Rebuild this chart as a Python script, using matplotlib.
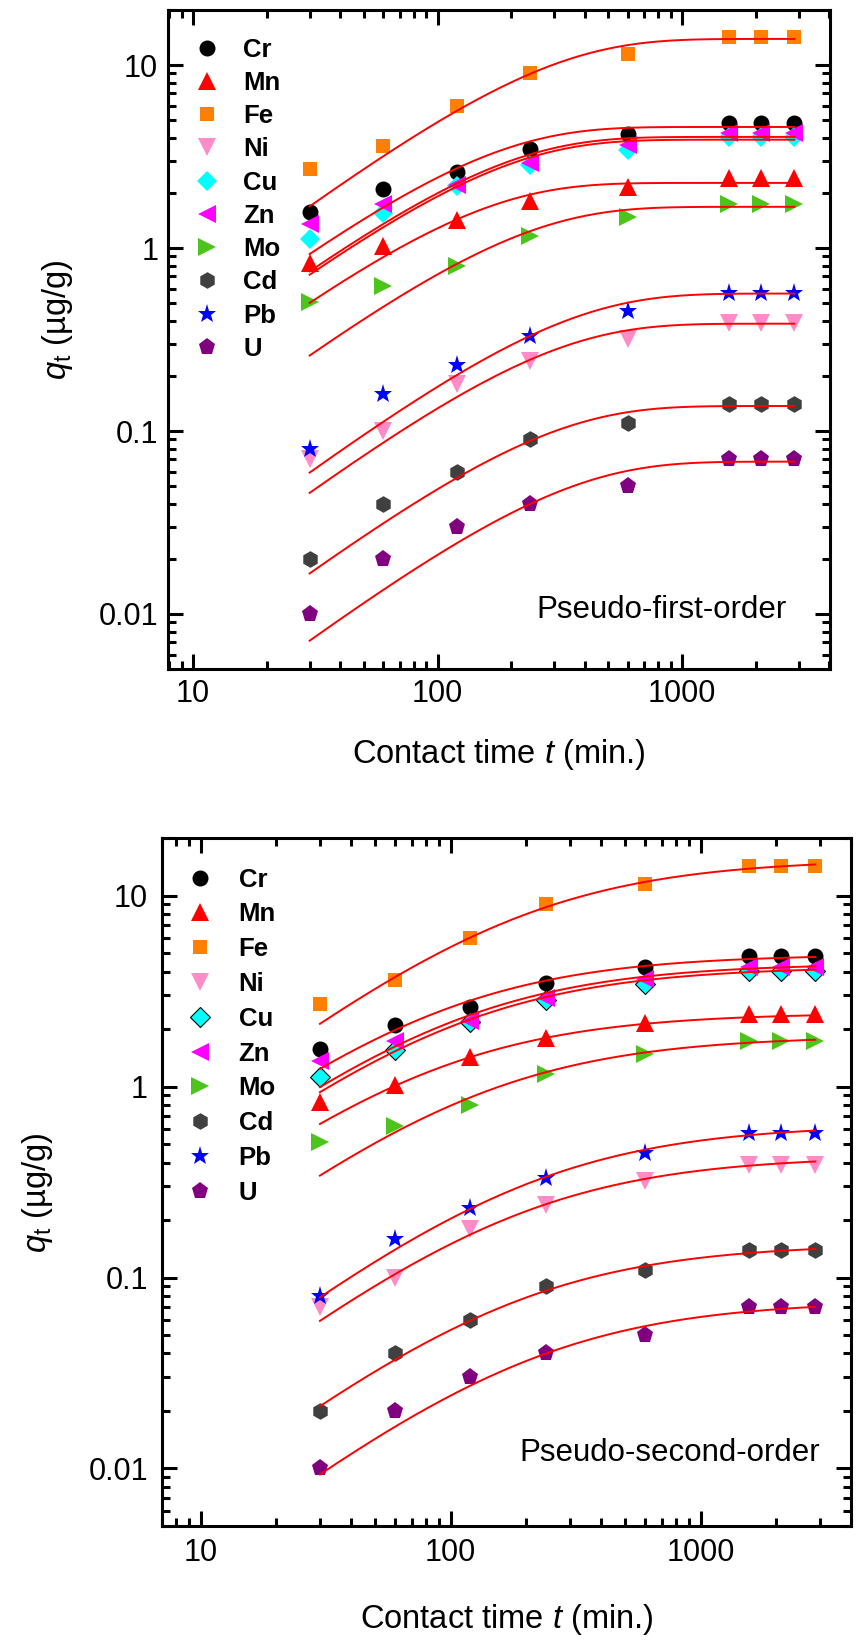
import numpy as np
import matplotlib
matplotlib.use('Agg')
import matplotlib.pyplot as plt
from matplotlib import ticker

plt.rcParams['font.family'] = ['Liberation Sans', 'DejaVu Sans']
plt.rcParams['mathtext.fontset'] = 'custom'
plt.rcParams['mathtext.rm'] = 'Liberation Sans'
plt.rcParams['mathtext.it'] = 'Liberation Sans:italic'

# contact time (min)
t = [30, 60, 120, 240, 600, 1560, 2100, 2880]

elements = ['Cr', 'Mn', 'Fe', 'Ni', 'Cu', 'Zn', 'Mo', 'Cd', 'Pb', 'U']

# measured q_t (ug/g)
q_cr = [1.58, 2.1, 2.6, 3.5, 4.2, 4.8, 4.8, 4.8]
q_mn = [0.83, 1.02, 1.43, 1.8, 2.15, 2.4, 2.4, 2.4]
q_fe = [2.7, 3.6, 6.0, 9.0, 11.5, 14.2, 14.2, 14.2]
q_ni = [0.07, 0.10, 0.18, 0.24, 0.32, 0.39, 0.39, 0.39]
q_cu = [1.12, 1.55, 2.17, 2.85, 3.44, 4.03, 4.03, 4.03]
q_zn = [1.36, 1.74, 2.2, 2.9, 3.66, 4.24, 4.24, 4.24]
q_mo = [0.51, 0.62, 0.80, 1.16, 1.48, 1.74, 1.74, 1.74]
q_cd = [0.02, 0.04, 0.06, 0.09, 0.11, 0.14, 0.14, 0.14]
q_pb = [0.08, 0.16, 0.23, 0.33, 0.45, 0.57, 0.57, 0.57]
q_u = [0.01, 0.02, 0.03, 0.04, 0.05, 0.07, 0.07, 0.07]
q_all = [q_cr, q_mn, q_fe, q_ni, q_cu, q_zn, q_mo, q_cd, q_pb, q_u]

# pseudo-first-order fit: qe, k1
pfo_qe = [4.59, 2.27, 13.9, 0.386, 3.91, 4.05, 1.68, 0.137, 0.564, 0.068]
pfo_k1 = [0.00752, 0.00832, 0.00432, 0.00422, 0.00673, 0.00678, 0.00557, 0.00432, 0.0037, 0.0037]

# pseudo-second-order fit: qe, k2
pso_qe = [4.917, 2.43, 15.49, 0.4315, 4.241, 4.413, 1.838, 0.1499, 0.631, 0.0754]
pso_k2 = [0.002281, 0.00487, 0.000343, 0.0123, 0.00222, 0.002193, 0.00414, 0.0366, 0.00753, 0.0622]

colors = ['#000000', '#ff0000', '#ff7f00', '#ff8cc6', '#00ffff',
          '#ff00ff', '#4cc41c', '#404040', '#0000ff', '#800080']
markers = ['o', '^', 's', 'v', 'D', '<', '>', 'h', '*', 'p']
msizes = [11.5, 13.5, 10.5, 13.5, 10, 13.5, 13.5, 12, 14, 12.5]


def pfo(tt, qe, k):
    return qe * (1 - np.exp(-k * tt))


def pso(tt, qe, k):
    return qe ** 2 * k * tt / (1 + qe * k * tt)


def style_axes(ax, xlim, xpad, ypad):
    ax.set_xscale('log')
    ax.set_yscale('log')
    ax.set_xlim(*xlim)
    ax.set_ylim(0.005, 20)
    ax.xaxis.set_major_locator(ticker.FixedLocator([10, 100, 1000]))
    ax.yaxis.set_major_locator(ticker.FixedLocator([0.01, 0.1, 1, 10]))
    ax.xaxis.set_minor_locator(ticker.LogLocator(subs=np.arange(2, 10)))
    ax.yaxis.set_minor_locator(ticker.LogLocator(subs=np.arange(2, 10)))
    fmt = ticker.FuncFormatter(lambda v, p: '%g' % v)
    ax.xaxis.set_major_formatter(fmt)
    ax.yaxis.set_major_formatter(fmt)
    ax.xaxis.set_minor_formatter(ticker.NullFormatter())
    ax.yaxis.set_minor_formatter(ticker.NullFormatter())
    ax.tick_params(which='both', direction='in', top=True, right=True,
                   width=2.2, labelsize=22)
    ax.tick_params(which='major', length=10.5)
    ax.tick_params(which='minor', length=6)
    ax.tick_params(axis='x', pad=xpad)
    ax.tick_params(axis='y', pad=ypad)
    for s in ax.spines.values():
        s.set_linewidth(2.2)


fig = plt.figure(figsize=(8.57, 16.41), dpi=100)
ax1 = fig.add_axes([0.196, 0.5923, 0.7725, 0.4016])
ax2 = fig.add_axes([0.189, 0.0701, 0.804, 0.4192])

tt = np.geomspace(t[0], t[-1], 300)

for ax, model, qe_list, k_list, edge in [(ax1, pfo, pfo_qe, pfo_k1, False),
                                          (ax2, pso, pso_qe, pso_k2, True)]:
    for i, el in enumerate(elements):
        mec = 'black' if (edge and el == 'Cu') else colors[i]
        mew = 0.8 if (edge and el == 'Cu') else 0
        ax.plot(t, q_all[i], linestyle='none', marker=markers[i], ms=msizes[i],
                color=colors[i], mec=mec, mew=mew, label=el, zorder=3)
    for i in range(len(elements)):
        ax.plot(tt, model(tt, qe_list[i], k_list[i]), color='red', lw=1.4, zorder=4)

style_axes(ax1, (7.9, 4030), 7, 7)
style_axes(ax2, (7, 4000), 9, 10)

leg_font = {'weight': 'bold', 'size': 18.5}
ax1.legend(loc='upper left', bbox_to_anchor=(0.0396, 0.958), frameon=False,
           prop=leg_font, handlelength=1.0, handletextpad=0.9, labelspacing=0.36,
           borderpad=0, borderaxespad=0, numpoints=1)
ax2.legend(loc='upper left', bbox_to_anchor=(0.0366, 0.957), frameon=False,
           prop=leg_font, handlelength=1.0, handletextpad=1.0, labelspacing=0.42,
           borderpad=0, borderaxespad=0, numpoints=1)

ax1.text(0.935, 0.0895, 'Pseudo-first-order', transform=ax1.transAxes,
         ha='right', va='center', fontsize=22.5)
ax2.text(0.955, 0.106, 'Pseudo-second-order', transform=ax2.transAxes,
         ha='right', va='center', fontsize=22.5)

for ax, xl, yl in [(ax1, -0.103, (-0.14, 0.53)), (ax2, -0.11, (-0.155, 0.484))]:
    ax.set_xlabel('Contact time $t$ (min.)', fontsize=23.5)
    ax.set_ylabel('$q_\\mathrm{t}$ (\u00b5g/g)', fontsize=23.5)
    ax.xaxis.set_label_coords(0.5, xl)
    ax.yaxis.set_label_coords(*yl)

fig.savefig('out.png', dpi=100)
